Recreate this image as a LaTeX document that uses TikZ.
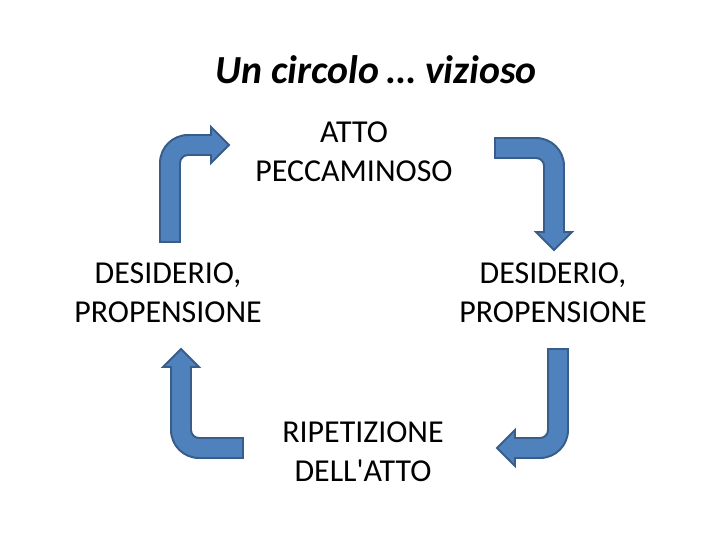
\documentclass[tikz,border=0pt]{standalone}
\usepackage{fontspec}
\setmainfont{Carlito}
\usetikzlibrary{positioning}
\definecolor{arfill}{HTML}{4F81BD}
\definecolor{arline}{HTML}{385D8A}

% bent arrow: tail leg #1, head leg #2 (shaft 20, outer radius 28)
\newcommand\bentarrow[2]{%
  \filldraw[arrowbody] (0,0) -- (0,#1-28) arc[start angle=180, end angle=90, radius=28]
    -- (#2-18,#1) -- (#2-18,#1+8) -- (#2,#1-10) -- (#2-18,#1-28) -- (#2-18,#1-20)
    -- (28,#1-20) arc[start angle=90, end angle=180, radius=8] -- (20,0) -- cycle;}

\begin{document}
\begin{tikzpicture}[x=0.025cm, y=0.025cm, line join=miter,
    lbl/.style={align=center, inner sep=0pt, font=\fontsize{22.7}{27.6}\selectfont},
    arrowbody/.style={fill=arfill, draw=arline, line width=1.4pt}]
  \fill[white] (0,0) rectangle (720,540);
  \useasboundingbox (0,0) rectangle (720,540);

  \node[font=\fontsize{28.3}{34}\selectfont\bfseries\itshape] (title) at (376,470) {Un circolo … vizioso};

  \node[lbl] (atto) at (354,388) {ATTO\\PECCAMINOSO};
  \node[lbl] (desleft) at (168,247) {DESIDERIO,\\PROPENSIONE};
  \node[lbl] (desright) at (553,247) {DESIDERIO,\\PROPENSIONE};
  \node[lbl] (ripet) at (363,88) {RIPETIZIONE\\DELL\textquotesingle ATTO};

  \begin{scope}[shift={(160,298)}]
    \bentarrow{107}{69}
  \end{scope}
  \begin{scope}[shift={(495,402)}, rotate=-90]
    \bentarrow{69}{112}
  \end{scope}
  \begin{scope}[shift={(568,191)}, rotate=180]
    \bentarrow{109}{71}
  \end{scope}
  \begin{scope}[shift={(243,82)}, rotate=90]
    \bentarrow{72}{109}
  \end{scope}
\end{tikzpicture}
\end{document}
